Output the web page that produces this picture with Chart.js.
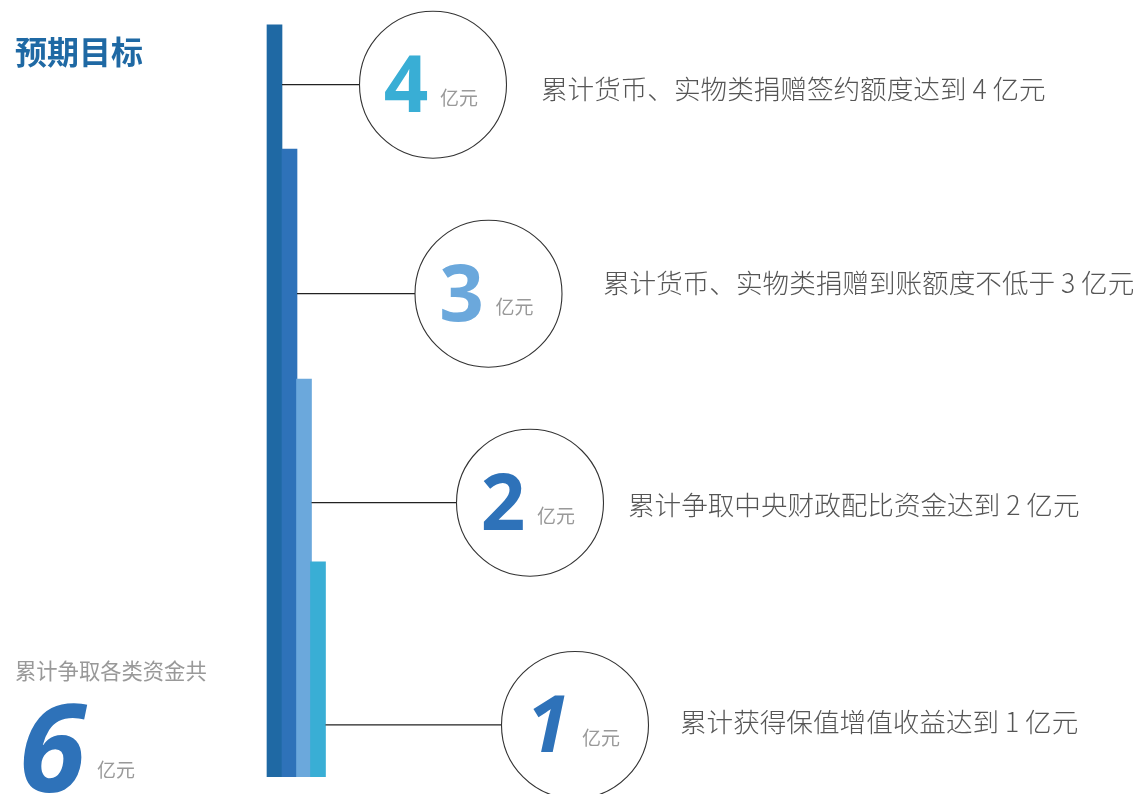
<!DOCTYPE html>
<html>
<head>
<meta charset="utf-8">
<script src="https://cdn.jsdelivr.net/npm/chart.js@4/dist/chart.umd.min.js"></script>
<style>
  html, body { margin: 0; padding: 0; background: #ffffff; }
  #wrap { width: 1144px; height: 794px; position: relative; }
</style>
</head>
<body>
<div id="wrap"><canvas id="c" width="1144" height="794"></canvas></div>
<script>
// ---- data ----
const amounts = [4, 3, 2, 1];                 // target amounts (亿元)
const unitLabel = '亿元';
const descriptions = [
  '累计货币、实物类捐赠签约额度达到 4 亿元',
  '累计货币、实物类捐赠到账额度不低于 3 亿元',
  '累计争取中央财政配比资金达到 2 亿元',
  '累计获得保值增值收益达到 1 亿元'
];
const barHeights = [96.8, 80.8, 51.2, 27.7];   // estimated bar heights (0-100 scale)
const connectorLevels = [89.1, 62.2, 35.3, 6.7]; // level of each connector / circle
const totalAmount = 6;
const totalLabel = '累计争取各类资金共';
const titleText = '预期目标';

// ---- layout / style (not data) ----
const barX = [274.5, 289.5, 304, 318];
const barColors = ['#1f69a4', '#2e72b9', '#6ba8dc', '#39aed5'];
const circleX = [433, 488.5, 530, 575];
const circleR = 73.5;
const numberColors = ['#39aed5', '#6ba8dc', '#2e72b9', '#2e72b9'];
const numberItalic = [false, false, false, true];
const descX = [541, 603, 628, 680];
const descDy = [4, -11, 2, -3];

const barData = amounts.map((a, i) => ({ x: barX[i], y: barHeights[i] }));
const bubbleData = amounts.map((a, i) => ({ x: circleX[i], y: connectorLevels[i], r: circleR }));
const connectorSets = amounts.map((a, i) => ({
  type: 'line',
  data: [{ x: barX[i] + 7.5, y: connectorLevels[i] }, { x: circleX[i] - circleR, y: connectorLevels[i] }],
  borderColor: '#222222',
  borderWidth: 1.2,
  pointRadius: 0,
  fill: false,
  clip: false,
  order: 2
}));

const textPlugin = {
  id: 'texts',
  afterDatasetsDraw(chart) {
    const ctx = chart.ctx;
    const xs = chart.scales.x, ys = chart.scales.y;
    ctx.save();
    // title
    ctx.fillStyle = '#1f69a4';
    ctx.font = 'bold 32px "Noto Sans CJK SC"';
    ctx.textAlign = 'left';
    ctx.textBaseline = 'middle';
    ctx.fillText(titleText, 15, 52);
    // circles content
    amounts.forEach((a, i) => {
      const cx = xs.getPixelForValue(circleX[i]);
      const cy = ys.getPixelForValue(connectorLevels[i]);
      ctx.fillStyle = numberColors[i];
      ctx.font = (numberItalic[i] ? 'italic ' : '') + 'bold 78px "Open Sans"';
      ctx.textAlign = 'center';
      ctx.textBaseline = 'alphabetic';
      ctx.fillText(String(a), cx - 27, cy + 27);
      ctx.fillStyle = '#999999';
      ctx.font = '19px "Noto Sans CJK SC"';
      ctx.textAlign = 'left';
      ctx.textBaseline = 'middle';
      ctx.fillText(unitLabel, cx + 7, cy + 13);
      ctx.fillStyle = '#555555';
      ctx.font = '300 26.6px "Noto Sans CJK SC"';
      ctx.fillText(descriptions[i], descX[i], cy + descDy[i]);
    });
    // total
    ctx.fillStyle = '#999999';
    ctx.font = '21.3px "Noto Sans CJK SC"';
    ctx.textAlign = 'left';
    ctx.textBaseline = 'middle';
    ctx.fillText(totalLabel, 15, 671);
    ctx.fillStyle = '#2e72b9';
    ctx.font = 'italic bold 122px "Open Sans"';
    ctx.textBaseline = 'alphabetic';
    ctx.textAlign = 'center';
    ctx.fillText(String(totalAmount), 52, 792);
    ctx.fillStyle = '#999999';
    ctx.font = '19px "Noto Sans CJK SC"';
    ctx.textAlign = 'left';
    ctx.textBaseline = 'middle';
    ctx.fillText(unitLabel, 97, 770);
    ctx.restore();
  }
};

new Chart(document.getElementById('c'), {
  type: 'bar',
  data: {
    datasets: [
      {
        type: 'bar',
        data: barData,
        backgroundColor: barColors,
        borderWidth: 0,
        barThickness: 15,
        order: 3
      },
      ...connectorSets,
      {
        type: 'bubble',
        data: bubbleData,
        backgroundColor: 'rgba(255,255,255,0)',
        borderColor: '#333333',
        borderWidth: 1.1,
        clip: false,
        order: 1
      }
    ]
  },
  options: {
    responsive: false,
    animation: false,
    layout: { autoPadding: false, padding: { left: 0, right: 0, top: 0, bottom: 17 } },
    plugins: { legend: { display: false }, tooltip: { enabled: false } },
    scales: {
      x: { type: 'linear', min: 0, max: 1144, display: false, offset: false },
      y: { type: 'linear', min: 0, max: 100, display: false }
    },
    events: []
  },
  plugins: [textPlugin]
});
</script>
</body>
</html>
